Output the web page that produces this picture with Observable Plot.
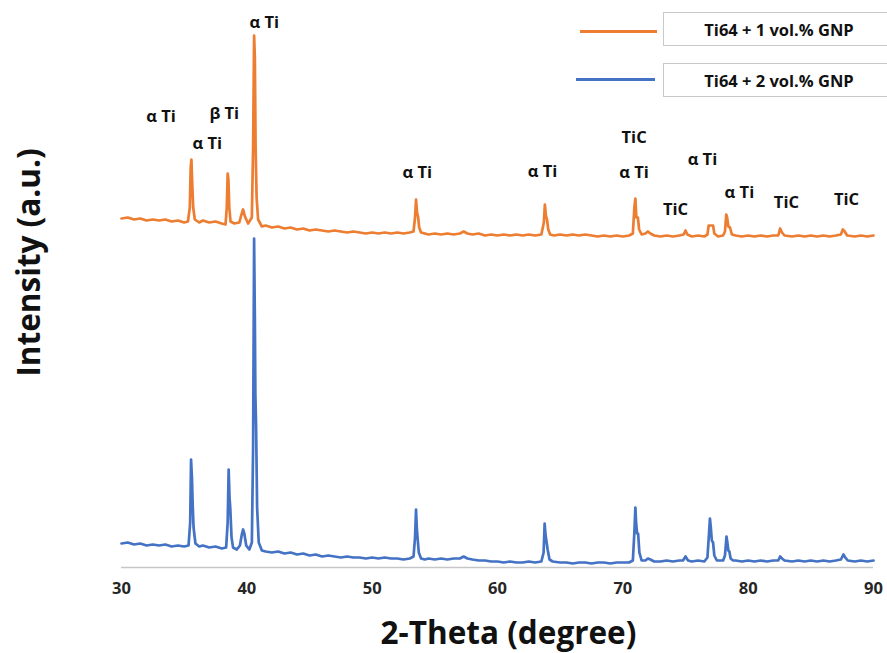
<!DOCTYPE html>
<html>
<head>
<meta charset="utf-8">
<script src="https://cdn.jsdelivr.net/npm/d3@7"></script>
<script src="https://cdn.jsdelivr.net/npm/@observablehq/plot@0.6"></script>
<style>
  body { margin: 0; background: #fff; }
  #wrap { position: relative; width: 887px; height: 653px; overflow: hidden; font-family: "Open Sans", sans-serif; background: #fff; }
  #wrap svg { position: absolute; left: 0; top: 0; }
  .leg-line { position: absolute; height: 3px; }
  .leg-box { position: absolute; left: 663px; width: 230px; height: 32px; border: 1.5px solid #c9c9c9; background: #fff;
             display: flex; align-items: center; justify-content: center; font-weight: 700; font-size: 16.5px; color: #111; box-sizing: content-box; }
  g[aria-label="x-axis tick label"] text { font-weight: 700; }
</style>
</head>
<body>
<div id="wrap"></div>
<script>
// ---- data (2θ in degrees, intensity in arbitrary units) ----
const seriesNames = ["Ti64 + 1 vol.% GNP", "Ti64 + 2 vol.% GNP"];
const seriesColors = ["#ED7D31", "#4472C4"];
const xTicks = [30, 40, 50, 60, 70, 80, 90];

const gnp1 = [
  [30.0,349],[30.5,350],[31.0,348],[31.5,349],[32.0,347],[32.5,348],[33.0,347],[33.5,348],[34.0,346],[34.5,347],
  [35.0,345],[35.3,346],[35.45,360],[35.52,400],[35.58,408],[35.64,385],[35.72,360],[35.85,348],[36.2,345],[36.5,347],
  [37.0,345],[37.5,346],[38.0,344],[38.3,343],[38.4,360],[38.47,394],[38.53,388],[38.6,360],[38.7,346],[39.0,344],
  [39.4,345],[39.55,352],[39.7,358],[39.85,351],[40.1,344],[40.4,350],[40.5,420],[40.58,532],[40.64,510],[40.7,420],
  [40.78,370],[40.9,348],[41.2,341],[41.5,342],[42.0,340],[42.5,341],[43.0,339],[43.5,340],[44.0,338],[44.5,339],
  [45.0,337],[45.5,338],[46.0,337],[46.5,336],[47.0,337],[47.5,336],[48.0,335],[48.5,336],[49.0,335],[49.5,334],
  [50.0,335],[50.5,334],[51.0,335],[51.5,334],[52.0,335],[52.5,334],[53.0,335],[53.3,336],[53.42,350],[53.5,368],
  [53.58,355],[53.66,351],[53.75,340],[53.9,335],[54.2,334],[54.5,333],[55.0,334],[55.5,333],[56.0,334],[56.5,333],
  [57.0,334],[57.3,336],[57.6,334],[58.0,333],[58.5,334],[59.0,332],[59.5,333],[60.0,332],[60.5,333],[61.0,332],
  [61.5,333],[62.0,332],[62.5,333],[63.0,332],[63.5,333],[63.7,345],[63.78,363],[63.86,352],[63.95,348],[64.05,338],
  [64.2,333],[64.5,332],[65.0,333],[65.5,332],[66.0,333],[66.5,332],[67.0,333],[67.5,332],[68.0,331],[68.5,332],
  [69.0,331],[69.5,332],[70.0,331],[70.5,332],[70.8,334],[70.92,360],[71.0,369],[71.08,350],[71.2,350],[71.3,338],
  [71.5,333],[71.8,334],[72.0,336],[72.2,334],[72.5,332],[73.0,331],[73.5,332],[74.0,331],[74.5,332],[74.85,333],
  [75.0,337],[75.15,333],[75.5,331],[76.0,332],[76.5,331],[76.75,333],[76.85,342],[77.2,342],[77.3,334],[77.6,331],
  [78.0,332],[78.15,336],[78.25,353],[78.32,350],[78.42,341],[78.55,340],[78.7,333],[79.0,332],[79.5,331],[80.0,332],
  [80.5,331],[81.0,332],[81.5,331],[82.0,332],[82.4,332],[82.55,339],[82.7,335],[82.9,332],[83.5,331],[84.0,332],
  [84.5,331],[85.0,332],[85.5,331],[86.0,332],[86.5,331],[87.0,332],[87.4,333],[87.55,338],[87.7,336],[87.9,332],
  [88.5,331],[89.0,332],[89.5,331],[90.0,332]
];

const gnp2 = [
  [30.0,24],[30.5,25],[31.0,23],[31.5,24],[32.0,22],[32.5,23],[33.0,22],[33.5,23],[34.0,21],[34.5,22],
  [35.0,21],[35.35,22],[35.48,45],[35.55,108],[35.62,90],[35.68,63],[35.75,40],[35.9,24],[36.2,21],[36.5,22],
  [37.0,20],[37.5,21],[38.0,19],[38.35,20],[38.47,45],[38.55,98],[38.62,70],[38.68,59],[38.78,30],[38.9,20],
  [39.2,18],[39.45,22],[39.6,33],[39.7,38],[39.8,34],[39.95,22],[40.2,18],[40.4,25],[40.5,120],[40.58,329],
  [40.64,250],[40.68,174],[40.74,140],[40.82,60],[40.95,25],[41.2,17],[41.5,16],[42.0,15],[42.5,16],[43.0,14],
  [43.5,15],[44.0,13],[44.5,14],[45.0,12],[45.5,13],[46.0,11],[46.5,12],[47.0,11],[47.5,10],[48.0,11],
  [48.5,10],[49.0,10],[49.5,9],[50.0,10],[50.5,9],[51.0,10],[51.5,9],[52.0,9],[52.5,8],[53.0,9],
  [53.3,11],[53.42,30],[53.5,58],[53.56,40],[53.62,30],[53.72,15],[53.9,9],[54.2,8],[54.5,9],[55.0,8],
  [55.5,9],[56.0,8],[56.5,9],[57.0,9],[57.3,11],[57.6,9],[58.0,8],[58.5,7],[59.0,7],[59.5,6],
  [60.0,6],[60.5,5],[61.0,6],[61.5,5],[62.0,5],[62.5,6],[63.0,5],[63.5,6],[63.68,15],[63.76,44],
  [63.84,32],[63.92,25],[64.0,18],[64.15,8],[64.4,6],[65.0,5],[65.5,5],[66.0,4],[66.5,5],[67.0,5],
  [67.5,4],[68.0,5],[68.5,5],[69.0,4],[69.5,5],[70.0,5],[70.5,5],[70.8,7],[70.92,35],[71.0,60],
  [71.06,45],[71.14,34],[71.22,34],[71.32,15],[71.5,7],[71.8,7],[72.0,9],[72.2,8],[72.5,6],[73.0,6],
  [73.5,7],[74.0,6],[74.5,7],[74.8,7],[75.0,11],[75.2,7],[75.5,6],[76.0,7],[76.5,6],[76.75,10],
  [76.88,35],[76.95,49],[77.02,40],[77.1,27],[77.2,25],[77.3,12],[77.5,7],[78.0,7],[78.15,12],[78.27,31],
  [78.34,25],[78.42,17],[78.5,16],[78.6,9],[78.8,7],[79.0,7],[79.5,6],[80.0,7],[80.5,6],[81.0,7],
  [81.5,6],[82.0,7],[82.4,7],[82.55,11],[82.7,9],[82.9,7],[83.5,6],[84.0,7],[84.5,6],[85.0,7],
  [85.5,6],[86.0,7],[86.5,6],[87.0,7],[87.4,8],[87.6,13],[87.75,10],[87.95,7],[88.5,6],[89.0,7],
  [89.5,6],[90.0,7]
];

// phase labels: text, 2θ, intensity position (data units)
const labelText  = ["α Ti", "α Ti", "β Ti", "α Ti", "α Ti", "α Ti", "TiC", "α Ti", "TiC", "α Ti", "α Ti", "TiC", "TiC"];
const labelTheta = [33.15, 36.85, 38.2, 41.4, 53.6, 63.6, 70.9, 70.9, 74.2, 76.35, 79.3, 83.05, 87.85];
const labelInt   = [451, 424, 454, 545, 395, 396, 430, 395, 358, 408, 375, 365, 368];

// ---- build ----
const labels = labelText.map((t, i) => ({text: t, theta: labelTheta[i], intensity: labelInt[i]}));
const toRows = (arr) => arr.map(([theta, intensity]) => ({theta, intensity}));

const chart = Plot.plot({
  width: 887,
  height: 653,
  marginLeft: 121,
  marginRight: 14,
  marginTop: 27,
  marginBottom: 86,
  x: {domain: [30, 90]},
  y: {domain: [0, 540], axis: null},
  style: {fontFamily: "'Open Sans', sans-serif", background: "transparent", overflow: "visible"},
  marks: [
    Plot.ruleY([0], {stroke: "#c6c6c6", strokeWidth: 1.5}),
    Plot.axisX({ticks: xTicks, tickSize: 0, tickPadding: 15, fontSize: 16.5, fill: "#262626", label: null, tickFormat: d => String(d)}),
    Plot.line(toRows(gnp1), {x: "theta", y: "intensity", stroke: seriesColors[0], strokeWidth: 2.7, strokeLinejoin: "round"}),
    Plot.line(toRows(gnp2), {x: "theta", y: "intensity", stroke: seriesColors[1], strokeWidth: 2.7, strokeLinejoin: "round"}),
    Plot.text(labels, {x: "theta", y: "intensity", text: "text", fontSize: 16.5, fontWeight: "bold", fill: "#111", textAnchor: "middle", lineAnchor: "middle"}),
    Plot.text(["2-Theta (degree)"], {frameAnchor: "bottom", textAnchor: "middle", dx: 11, dy: 66, lineAnchor: "middle", fontSize: 31.5, fontWeight: "bold", fill: "#111"}),
    Plot.text(["Intensity (a.u.)"], {frameAnchor: "left", textAnchor: "middle", dx: -92, dy: -35, rotate: -90, lineAnchor: "middle", fontSize: 31.5, fontWeight: "bold", fill: "#111"})
  ]
});

const wrap = document.getElementById("wrap");
wrap.appendChild(chart);

// legend (HTML, above the plot)
const legLines = [{left: 580, top: 30, width: 77}, {left: 576, top: 78, width: 79}];
const legBoxes = [{top: 12}, {top: 63}];
seriesNames.forEach((name, i) => {
  const ln = document.createElement("div");
  ln.className = "leg-line";
  ln.style.left = legLines[i].left + "px";
  ln.style.top = legLines[i].top + "px";
  ln.style.width = legLines[i].width + "px";
  ln.style.background = seriesColors[i];
  wrap.appendChild(ln);
  const bx = document.createElement("div");
  bx.className = "leg-box";
  bx.style.top = legBoxes[i].top + "px";
  bx.textContent = name;
  wrap.appendChild(bx);
});
</script>
</body>
</html>
